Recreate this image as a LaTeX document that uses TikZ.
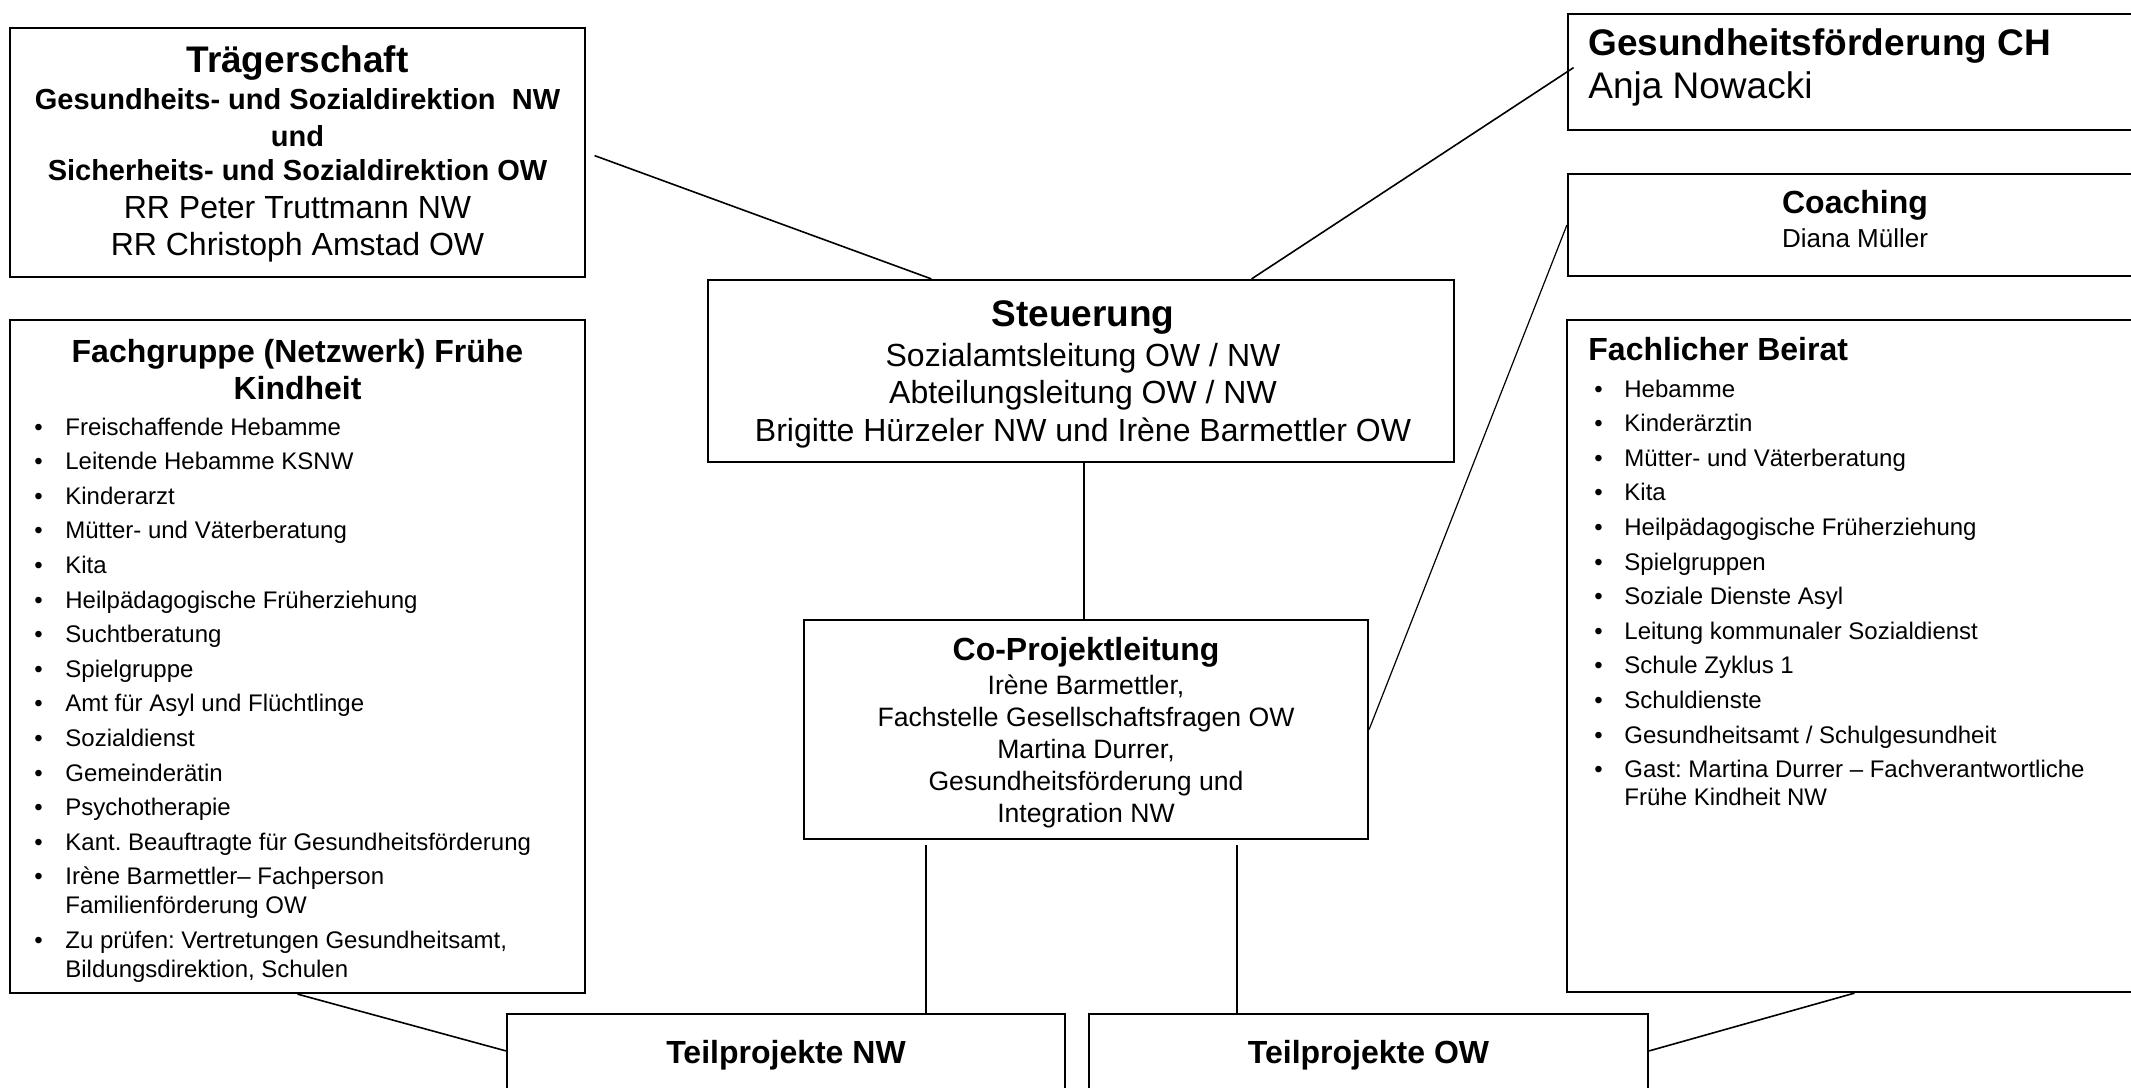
\documentclass[tikz,border=0pt]{standalone}
\usepackage{fontspec}
\setmainfont{Liberation Sans}
\usetikzlibrary{calc}
\newcommand\fsz[1]{\fontsize{#1}{#1}\selectfont}
\frenchspacing
\begin{document}
\begin{tikzpicture}[x=0.5pt,y=-0.5pt,
  box/.style={draw, line width=1.1pt, inner sep=0pt, fill=white},
  conn/.style={line width=0.8pt},
  vconn/.style={line width=0.6pt},
  ttl/.style={inner sep=0pt, anchor=base, font={\fsz{18.5pt}\bfseries}},
  ttll/.style={inner sep=0pt, anchor=base west, font={\fsz{18.5pt}\bfseries}},
  hd/.style={inner sep=0pt, anchor=base, font={\fsz{16pt}\bfseries}},
  hdl/.style={inner sep=0pt, anchor=base west, font={\fsz{16pt}\bfseries}},
  sub/.style={inner sep=0pt, anchor=base, font={\fsz{14.5pt}\bfseries}},
  rg/.style={inner sep=0pt, anchor=base, font={\fsz{16pt}}},
  rgl/.style={inner sep=0pt, anchor=base west, font={\fsz{18.5pt}}},
  sm/.style={inner sep=0pt, anchor=base, font={\fsz{13.3pt}}},
  bul/.style={inner sep=0pt, anchor=base west, font={\fsz{12pt}}},
]
\useasboundingbox (0,0) rectangle (2131,1087);
\clip (0,0) rectangle (2131,1087);
\fill[white] (0,0) rectangle (2131,1087);

% ---------- boxes ----------
\node[box, minimum width=287.5pt, minimum height=124.5pt] (trag)  at (297.5,152.5) {};
\node[box, minimum width=287.5pt, minimum height=336.5pt] (fach)  at (297.5,656.5) {};
\node[box, minimum width=373pt,   minimum height=91pt]    (steu)  at (1081,371) {};
\node[box, minimum width=282pt,   minimum height=109.5pt] (cop)   at (1086,729.5) {};
\node[box, minimum width=287pt,   minimum height=58pt]    (gch)   at (1855,72) {};
\node[box, minimum width=287pt,   minimum height=51pt]    (coach) at (1855,225) {};
\node[box, minimum width=287.5pt, minimum height=336pt]   (beir)  at (1854.5,656) {};
\node[box, minimum width=279pt,   minimum height=73pt]    (tnw)   at (786,1087) {};
\node[box, minimum width=279.5pt, minimum height=73pt]    (tow)   at (1368.5,1087) {};

% ---------- connectors ----------
\draw[conn, shorten <=4.5pt] (trag.east) -- ($(steu.north west)!0.30!(steu.north east)$);
\draw[conn, shorten >=-4pt] ($(steu.north west)!0.728!(steu.north east)$) -- (gch.west);
\draw[vconn] (steu.south -| 1084,0) -- (cop.north -| 1084,0);
\draw[vconn] (cop.east) -- (coach.west);
\coordinate (la) at (926,845);
\coordinate (lb) at (1237,845);
\draw[vconn] (la) -- (la |- tnw.north);
\draw[vconn] (lb) -- (lb |- tow.north);
\draw[conn] (fach.south) -- ($(tnw.north west)+(0,38)$);
\draw[conn] (beir.south) -- ($(tow.north east)+(0,38)$);

% ---------- Traegerschaft ----------
\node[ttl] (t1) at (297.5,72) {Trägerschaft};
\node[sub] (t2) at (297.5,109) {Gesundheits- und Sozialdirektion\ \ NW};
\node[sub] (t3) at (297.5,146) {und};
\node[sub] (t4) at (297.5,180) {Sicherheits- und Sozialdirektion OW};
\node[rg]  (t5) at (297.5,218) {RR Peter Truttmann NW};
\node[rg]  (t6) at (297.5,255) {RR Christoph Amstad OW};

% ---------- Fachgruppe ----------
\node[hd] (f1) at (297.5,362) {Fachgruppe (Netzwerk) Frühe};
\node[hd] (f2) at (297.5,399) {Kindheit};
\foreach \txt [count=\i, evaluate=\i as \yy using 435+(\i-1)*34.6] in
  {Freischaffende Hebamme, Leitende Hebamme KSNW, Kinderarzt,
   Mütter- und Väterberatung, Kita, Heilpädagogische Früherziehung,
   Suchtberatung, Spielgruppe, Amt für Asyl und Flüchtlinge, Sozialdienst,
   Gemeinderätin, Psychotherapie, Kant. Beauftragte für Gesundheitsförderung,
   Irène Barmettler– Fachperson}{
  \node[bul] (fb\i) at (34,\yy) {•};
  \node[bul] (fi\i) at (65,\yy) {\txt};
}
\node[bul] (fi14b) at (65,913) {Familienförderung OW};
\node[bul] (fb15) at (34,948) {•};
\node[bul] (fi15) at (65,948) {Zu prüfen: Vertretungen Gesundheitsamt,};
\node[bul] (fi15b) at (65,977) {Bildungsdirektion, Schulen};

% ---------- Steuerung ----------
\node[ttl] (s1) at (1083,326) {Steuerung};
\node[rg]  (s2) at (1083,366) {Sozialamtsleitung OW / NW};
\node[rg]  (s3) at (1083,403) {Abteilungsleitung OW / NW};
\node[rg]  (s4) at (1083,441) {Brigitte Hürzeler NW und Irène Barmettler OW};

% ---------- Co-Projektleitung ----------
\node[hd] (c1) at (1086,660) {Co-Projektleitung};
\node[sm] (c2) at (1086,694) {Irène Barmettler,};
\node[sm] (c3) at (1086,726) {Fachstelle Gesellschaftsfragen OW};
\node[sm] (c4) at (1086,758) {Martina Durrer,};
\node[sm] (c5) at (1086,790) {Gesundheitsförderung und};
\node[sm] (c6) at (1086,822) {Integration NW};

% ---------- Gesundheitsfoerderung CH ----------
\node[ttll] (g1) at (1588,55) {Gesundheitsförderung CH};
\node[rgl]  (g2) at (1588,98) {Anja Nowacki};

% ---------- Coaching ----------
\node[hd] (k1) at (1855,213) {Coaching};
\node[inner sep=0pt, anchor=base, font={\fsz{13pt}}] (k2) at (1855,247) {Diana Müller};

% ---------- Fachlicher Beirat ----------
\node[hdl] (b0) at (1588,360) {Fachlicher Beirat};
\foreach \txt [count=\i, evaluate=\i as \yy using 397+(\i-1)*34.6] in
  {Hebamme, Kinderärztin, Mütter- und Väterberatung, Kita,
   Heilpädagogische Früherziehung, Spielgruppen, Soziale Dienste Asyl,
   Leitung kommunaler Sozialdienst, Schule Zyklus 1, Schuldienste,
   Gesundheitsamt / Schulgesundheit, Gast: Martina Durrer – Fachverantwortliche}{
  \node[bul] (bb\i) at (1594,\yy) {•};
  \node[bul] (bi\i) at (1624,\yy) {\txt};
}
\node[bul] (bi12b) at (1624,805) {Frühe Kindheit NW};

% ---------- Teilprojekte ----------
\node[hd] (p1) at (786,1063) {Teilprojekte NW};
\node[hd] (p2) at (1368.5,1063) {Teilprojekte OW};
\end{tikzpicture}
\end{document}
